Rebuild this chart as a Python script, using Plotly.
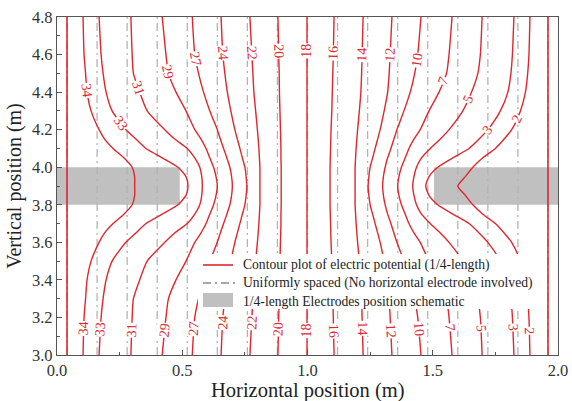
import numpy as np
import plotly.graph_objects as go

# ---------------- data ----------------
# shared vertical sample positions (m) for every contour
Y = [4.8, 4.6, 4.5, 4.4, 4.3, 4.2, 4.15, 4.1, 4.05, 4.0, 3.95, 3.9,
     3.85, 3.8, 3.75, 3.7, 3.65, 3.6, 3.5, 3.4, 3.3, 3.2, 3.0]

# horizontal position (m) of each labelled contour at the Y samples
C34 = [0.104, 0.108, 0.114, 0.120, 0.136, 0.168, 0.190, 0.224, 0.267, 0.300, 0.310, 0.310,
       0.310, 0.300, 0.267, 0.224, 0.190, 0.168, 0.136, 0.120, 0.114, 0.108, 0.104]
C33 = [0.168, 0.176, 0.184, 0.196, 0.220, 0.275, 0.315, 0.355, 0.420, 0.483, 0.515, 0.523,
       0.515, 0.483, 0.420, 0.355, 0.315, 0.275, 0.220, 0.196, 0.184, 0.176, 0.168]
C31 = [0.295, 0.300, 0.305, 0.330, 0.360, 0.430, 0.470, 0.520, 0.550, 0.570, 0.578, 0.580,
       0.578, 0.570, 0.550, 0.520, 0.470, 0.430, 0.360, 0.330, 0.305, 0.300, 0.295]
C29 = [0.420, 0.435, 0.445, 0.475, 0.515, 0.550, 0.575, 0.595, 0.610, 0.625, 0.635, 0.640,
       0.635, 0.625, 0.610, 0.595, 0.575, 0.550, 0.515, 0.475, 0.445, 0.435, 0.420]
C27 = [0.540, 0.550, 0.565, 0.585, 0.610, 0.640, 0.652, 0.665, 0.678, 0.690, 0.697, 0.700,
       0.697, 0.690, 0.678, 0.665, 0.652, 0.640, 0.610, 0.585, 0.565, 0.550, 0.540]
C24 = [0.655, 0.662, 0.670, 0.680, 0.694, 0.710, 0.720, 0.730, 0.740, 0.750, 0.755, 0.758,
       0.755, 0.750, 0.740, 0.730, 0.720, 0.710, 0.694, 0.680, 0.670, 0.662, 0.655]
C22 = [0.770, 0.778, 0.782, 0.786, 0.793, 0.800, 0.803, 0.806, 0.808, 0.810, 0.810, 0.810,
       0.810, 0.810, 0.808, 0.806, 0.803, 0.800, 0.793, 0.786, 0.782, 0.778, 0.770]
C20 = [0.882, 0.885, 0.887, 0.888, 0.890, 0.892, 0.893, 0.894, 0.894, 0.895, 0.895, 0.895,
       0.895, 0.895, 0.894, 0.894, 0.893, 0.892, 0.890, 0.888, 0.887, 0.885, 0.882]
C18 = [0.998, 0.998, 0.998, 0.998, 0.998, 0.998, 0.998, 0.998, 0.998, 0.998, 0.998, 0.998,
       0.998, 0.998, 0.998, 0.998, 0.998, 0.998, 0.998, 0.998, 0.998, 0.998, 0.998]
C16 = [1.106, 1.103, 1.101, 1.099, 1.097, 1.094, 1.093, 1.092, 1.091, 1.090, 1.090, 1.090,
       1.090, 1.090, 1.091, 1.092, 1.093, 1.094, 1.097, 1.099, 1.101, 1.103, 1.106]
C14 = [1.222, 1.218, 1.216, 1.213, 1.207, 1.200, 1.197, 1.194, 1.192, 1.190, 1.190, 1.190,
       1.190, 1.190, 1.192, 1.194, 1.197, 1.200, 1.207, 1.213, 1.216, 1.218, 1.222]
C12 = [1.337, 1.330, 1.326, 1.320, 1.306, 1.290, 1.280, 1.270, 1.260, 1.250, 1.245, 1.242,
       1.245, 1.250, 1.260, 1.270, 1.280, 1.290, 1.306, 1.320, 1.326, 1.330, 1.337]
C10 = [1.453, 1.440, 1.428, 1.410, 1.385, 1.357, 1.345, 1.333, 1.320, 1.310, 1.303, 1.300,
       1.303, 1.310, 1.320, 1.333, 1.345, 1.357, 1.385, 1.410, 1.428, 1.440, 1.453]
C7 = [1.577, 1.565, 1.555, 1.525, 1.485, 1.450, 1.425, 1.405, 1.390, 1.375, 1.365, 1.360,
      1.365, 1.375, 1.390, 1.405, 1.425, 1.450, 1.485, 1.525, 1.555, 1.565, 1.577]
C5 = [1.697, 1.690, 1.680, 1.655, 1.620, 1.565, 1.530, 1.490, 1.455, 1.435, 1.425, 1.420,
      1.425, 1.435, 1.455, 1.490, 1.530, 1.565, 1.620, 1.655, 1.680, 1.690, 1.697]
C3 = [1.824, 1.818, 1.812, 1.800, 1.770, 1.720, 1.685, 1.645, 1.580, 1.520, 1.485, 1.472,
      1.485, 1.520, 1.580, 1.645, 1.685, 1.720, 1.770, 1.800, 1.812, 1.818, 1.824]
C2 = [1.888, 1.884, 1.879, 1.870, 1.850, 1.815, 1.785, 1.750, 1.700, 1.660, 1.630, 1.600,
      1.630, 1.660, 1.700, 1.750, 1.785, 1.815, 1.850, 1.870, 1.879, 1.884, 1.888]

LEVELS = [34, 33, 31, 29, 27, 24, 22, 20, 18, 16, 14, 12, 10, 7, 5, 3, 2]
CONTOURS = [C34, C33, C31, C29, C27, C24, C22, C20, C18, C16, C14, C12, C10, C7, C5, C3, C2]
# vertical position of the inline labels (upper and lower)
LABEL_Y_TOP = [4.41, 4.235, 4.42, 4.507, 4.58, 4.61, 4.61, 4.62, 4.62, 4.61, 4.60, 4.60,
               4.57, 4.46, 4.36, 4.20, 4.26]
LABEL_Y_BOT = [3.14, 3.14, 3.13, 3.13, 3.14, 3.17, 3.17, 3.14, 3.13, 3.13, 3.14, 3.13,
               3.14, 3.145, 3.14, 3.145, 3.13]

# unlabelled straight equipotentials at the outer ends
BOUNDARY_X = [0.04, 1.96]

# uniformly spaced equipotentials (no horizontal electrode)
UNIFORM_X = [0.04, 0.16, 0.28, 0.40, 0.52, 0.64, 0.76, 0.88, 1.00, 1.12, 1.24,
             1.36, 1.48, 1.60, 1.72, 1.84, 1.96]

# electrode schematic rectangles: (x0, x1, y0, y1)
ELECTRODES = [(0.0, 0.49, 3.8, 4.0), (1.505, 2.0, 3.8, 4.0)]

X_RANGE = [0.0, 2.0]
Y_RANGE = [3.0, 4.8]
X_TICKS = [0.0, 0.5, 1.0, 1.5, 2.0]

LEGEND_TEXT = ["Contour plot of electric potential (1/4-length)",
               "Uniformly spaced (No horizontal electrode involved)",
               "1/4-length Electrodes position schematic"]
X_TITLE = "Horizontal position (m)"
Y_TITLE = "Vertical position (m)"

# ---------------- style ----------------
RED = "#e0262e"
GREY = "#b4b4b4"
FILL = "#c0c0c0"
FONT = "Liberation Serif"
DASHDOT = "8px,4px,2px,4px"
W, H = 572, 401
ML, MR, MT, MB = 57, 14, 17, 46
plot_w = W - ML - MR
plot_h = H - MT - MB


def px_x(px):
    return (px - ML) / plot_w


def px_y(py):
    return (H - MB - py) / plot_h


fig = go.Figure()

# electrodes
for (x0, x1, y0, y1) in ELECTRODES:
    fig.add_trace(go.Scatter(
        x=[x0, x1, x1, x0, x0], y=[y0, y0, y1, y1, y0], mode="lines",
        fill="toself", fillcolor=FILL, line=dict(width=0, color=FILL),
        showlegend=False, hoverinfo="skip"))

# uniform dash-dot lines
ux, uy = [], []
for x in UNIFORM_X:
    ux += [x, x, None]
    uy += [Y_RANGE[0], Y_RANGE[1], None]
fig.add_trace(go.Scatter(
    x=ux, y=uy, mode="lines",
    line=dict(color=GREY, width=1.3, dash=DASHDOT),
    showlegend=False, hoverinfo="skip"))

# boundary contour lines
for x in BOUNDARY_X:
    fig.add_trace(go.Scatter(
        x=[x, x], y=Y_RANGE, mode="lines", line=dict(color=RED, width=1.6),
        showlegend=False, hoverinfo="skip"))

# labelled contours
for lev, cx in zip(LEVELS, CONTOURS):
    fig.add_trace(go.Scatter(
        x=cx, y=Y, mode="lines",
        line=dict(color=RED, width=1.4, shape="spline", smoothing=0.6),
        showlegend=False, hoverinfo="skip"))

# inline labels
sx = plot_w / (X_RANGE[1] - X_RANGE[0])
sy = plot_h / (Y_RANGE[1] - Y_RANGE[0])
yy = np.array(Y)[::-1]

top_down = {34, 33, 31, 29, 27, 24, 22, 20}      # read downward (clockwise)
bot_down = {16, 14, 12, 10, 7, 5, 3, 2}


def label(lev, cx, ly, downward):
    xx = np.array(cx)[::-1]
    lx = float(np.interp(ly, yy, xx))
    h = 0.02
    dxdy = (np.interp(ly + h, yy, xx) - np.interp(ly - h, yy, xx)) / (2 * h)
    ang = np.degrees(np.arctan2(sy, -dxdy * sx))
    if not downward:
        ang -= 180
    fig.add_annotation(x=lx, y=ly, text=str(lev), showarrow=False,
                       textangle=float(ang), bgcolor="white", borderpad=0,
                       font=dict(family=FONT, size=14, color=RED))


for lev, cx, yt, yb in zip(LEVELS, CONTOURS, LABEL_Y_TOP, LABEL_Y_BOT):
    label(lev, cx, yt, lev in top_down)
    label(lev, cx, yb, lev in bot_down)

# ---------------- legend (drawn by hand) ----------------
shapes = [
    dict(type="rect", xref="paper", yref="paper", layer="above",
         x0=px_x(198), x1=px_x(537), y0=px_y(309), y1=px_y(254),
         fillcolor="white", line=dict(width=0)),
    dict(type="line", xref="paper", yref="paper", layer="above",
         x0=px_x(203), x1=px_x(233), y0=px_y(265), y1=px_y(265),
         line=dict(color=RED, width=1.6)),
    dict(type="line", xref="paper", yref="paper", layer="above",
         x0=px_x(203), x1=px_x(235), y0=px_y(283), y1=px_y(283),
         line=dict(color="#8c8c8c", width=1.6, dash="8px,4px,2px,4px")),
    dict(type="rect", xref="paper", yref="paper", layer="above",
         x0=px_x(203), x1=px_x(233), y0=px_y(307), y1=px_y(293),
         fillcolor=FILL, line=dict(width=0)),
]
for k, t in enumerate(LEGEND_TEXT):
    fig.add_annotation(xref="paper", yref="paper", x=px_x(241), y=px_y(265 + 18 * k),
                       xanchor="left", yanchor="middle", text=t, showarrow=False,
                       font=dict(family=FONT, size=13.6, color="#222222"))

# x-axis title placed just below the tick labels
fig.add_annotation(xref="paper", yref="paper", x=0.5, y=px_y(390.5),
                   xanchor="center", yanchor="middle", text=X_TITLE,
                   showarrow=False,
                   font=dict(family=FONT, size=20.5, color="#222222"))

axis_common = dict(showgrid=False, zeroline=False, showline=True, mirror=True,
                   linecolor="#555555", linewidth=1.2, ticks="inside",
                   tickcolor="#555555", ticklen=5, tickformat=".1f",
                   automargin=False,
                   tickfont=dict(family=FONT, size=16.5, color="#333333"))

fig.update_layout(
    width=W, height=H, margin=dict(l=ML, r=MR, t=MT, b=MB),
    paper_bgcolor="white", plot_bgcolor="white",
    font=dict(family=FONT, color="#222222"),
    shapes=shapes,
    xaxis=dict(range=X_RANGE, tickvals=X_TICKS,
               minor=dict(tickvals=[0.25, 0.75, 1.25, 1.75], ticks="inside",
                          ticklen=3, tickcolor="#555555"),
               **axis_common),
    yaxis=dict(range=Y_RANGE, dtick=0.2, tick0=3.0,
               minor=dict(dtick=0.1, ticks="inside", ticklen=3,
                          tickcolor="#555555"),
               title=dict(text=Y_TITLE,
                          font=dict(family=FONT, size=20, color="#222222"),
                          standoff=4),
               **axis_common),
    showlegend=False,
)

fig.write_html("out.html")
